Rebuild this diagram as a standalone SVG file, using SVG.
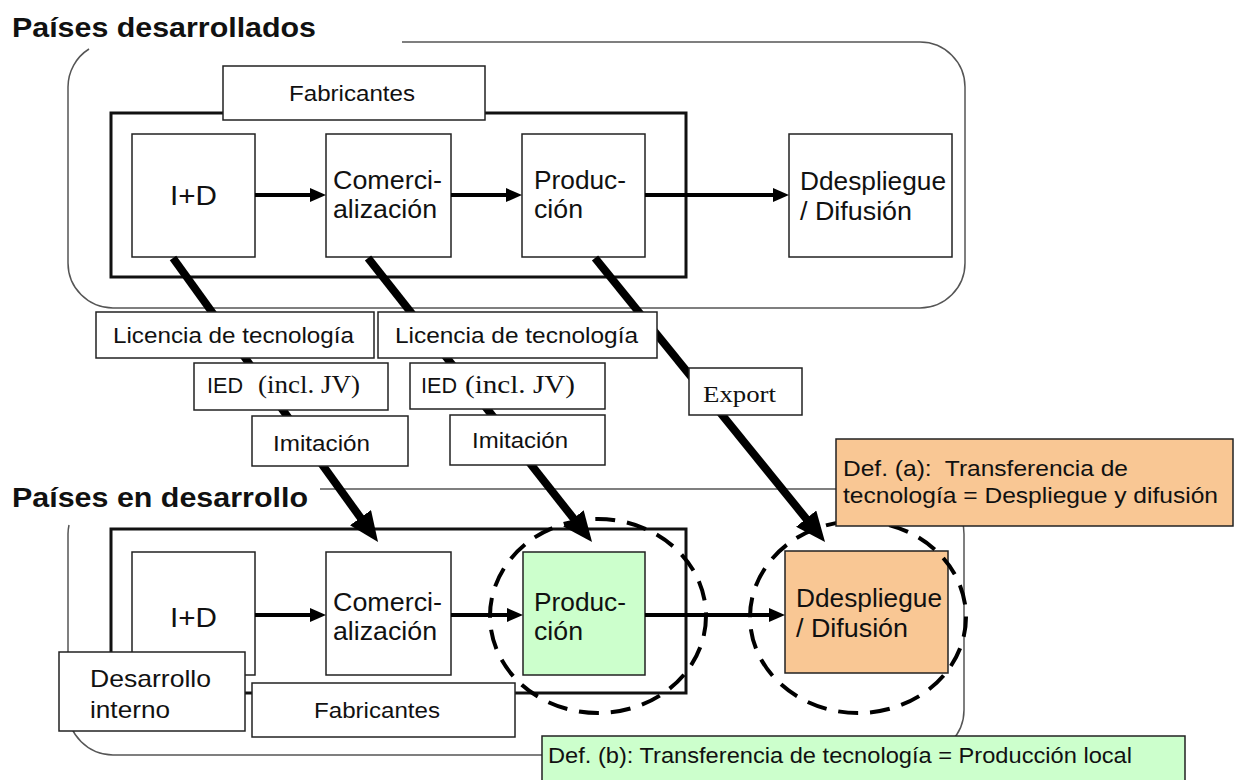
<svg xmlns="http://www.w3.org/2000/svg" width="1234" height="780" viewBox="0 0 1234 780">
  <style>
    .region { fill: none; stroke: #555; stroke-width: 1.5; }
    .frame  { fill: none; stroke: #111; stroke-width: 3; }
    .box    { fill: #fff; stroke: #222; stroke-width: 1.5; }
    .local  { fill: #CCFFCC; stroke: #222; stroke-width: 1.5; }
    .diff   { fill: #F9C794; stroke: #222; stroke-width: 1.5; }
    .t      { font-family: "Liberation Sans", Arial, sans-serif; fill: #111; }
    .tr     { font-family: "Liberation Serif", "Times New Roman", serif; fill: #111; }
    .title  { font-weight: bold; font-size: 28px; }
    .s25    { font-size: 25px; }
    .s22    { font-size: 22px; }
    .flow   { stroke: #000; stroke-width: 4; fill: none; marker-end: url(#ah); }
    .xfer   { stroke: #000; stroke-width: 8; fill: none; marker-end: url(#bh); }
    .scope  { fill: none; stroke: #000; stroke-width: 4; stroke-dasharray: 20 12; }
  </style>
  <defs>
    <marker id="ah" markerUnits="userSpaceOnUse" markerWidth="16" markerHeight="14" refX="6" refY="7" orient="auto">
      <path d="M0,0 L16,7 L0,14 z" fill="#000"/>
    </marker>
    <marker id="bh" markerUnits="userSpaceOnUse" markerWidth="30" markerHeight="26" refX="12" refY="13" orient="auto">
      <path d="M0,0 L30,13 L0,26 z" fill="#000"/>
    </marker>
  </defs>

  <rect width="1234" height="780" fill="#fff"/>

  <!-- Developed countries region -->
  <g id="developed">
    <path class="region" d="M402 42 H920 A45 45 0 0 1 965 87 V263 A45 45 0 0 1 920 308 H113 A45 45 0 0 1 68 263 V87 A45 45 0 0 1 89 49"/>
    <text class="t title" x="12" y="37" textLength="304" lengthAdjust="spacingAndGlyphs">Países desarrollados</text>
  </g>

  <!-- Developing countries region -->
  <g id="developing">
    <path class="region" d="M320 489 H919 A45 45 0 0 1 964 534 V710 A45 45 0 0 1 919 755 H113 A45 45 0 0 1 68 710 V534 A45 45 0 0 1 69 525"/>
    <text class="t title" x="12" y="507" style="font-size:27px" textLength="296" lengthAdjust="spacingAndGlyphs">Países en desarrollo</text>
  </g>

  <!-- Manufacturers (developed) -->
  <g id="fab-top">
    <rect class="frame" x="111" y="113" width="575" height="164"/>
    <rect class="box" x="223" y="66" width="262" height="54"/>
    <text class="t s22" x="352" y="101" text-anchor="middle" textLength="126" lengthAdjust="spacingAndGlyphs">Fabricantes</text>
  </g>
  <g id="id-top">
    <rect class="box" x="132" y="134" width="123" height="123"/>
    <text class="t" x="193.5" y="205" font-size="28" text-anchor="middle" textLength="47" lengthAdjust="spacingAndGlyphs">I+D</text>
  </g>
  <g id="com-top">
    <rect class="box" x="326" y="134" width="125" height="123"/>
    <text class="t s25" x="333" y="189" textLength="109" lengthAdjust="spacingAndGlyphs">Comerci-</text>
    <text class="t s25" x="333" y="218" textLength="104" lengthAdjust="spacingAndGlyphs">alización</text>
  </g>
  <g id="prod-top">
    <rect class="box" x="522" y="134" width="123" height="123"/>
    <text class="t s25" x="534" y="189" textLength="92" lengthAdjust="spacingAndGlyphs">Produc-</text>
    <text class="t s25" x="534" y="218" textLength="49" lengthAdjust="spacingAndGlyphs">ción</text>
  </g>
  <g id="dd-top">
    <rect class="box" x="789" y="134" width="163" height="123"/>
    <text class="t s25" x="800" y="190" textLength="146" lengthAdjust="spacingAndGlyphs">Ddespliegue</text>
    <text class="t s25" x="800" y="220" textLength="112" lengthAdjust="spacingAndGlyphs">/ Difusión</text>
  </g>

  <!-- Manufacturers (developing) -->
  <g id="fab-bottom-frame">
    <rect class="frame" x="111" y="529" width="575" height="164"/>
  </g>
  <g id="id-bottom">
    <rect class="box" x="132" y="552" width="123" height="123"/>
    <text class="t" x="193.5" y="627" font-size="28" text-anchor="middle" textLength="47" lengthAdjust="spacingAndGlyphs">I+D</text>
  </g>
  <g id="com-bottom">
    <rect class="box" x="326" y="552" width="125" height="123"/>
    <text class="t s25" x="333" y="611" textLength="109" lengthAdjust="spacingAndGlyphs">Comerci-</text>
    <text class="t s25" x="333" y="640" textLength="104" lengthAdjust="spacingAndGlyphs">alización</text>
  </g>
  <g id="prod-bottom">
    <rect class="local" x="523" y="552" width="122" height="123"/>
    <text class="t s25" x="534" y="611" textLength="92" lengthAdjust="spacingAndGlyphs">Produc-</text>
    <text class="t s25" x="534" y="640" textLength="49" lengthAdjust="spacingAndGlyphs">ción</text>
  </g>
  <g id="dd-bottom">
    <rect class="diff" x="785" y="551" width="163" height="122"/>
    <text class="t s25" x="796" y="607" textLength="146" lengthAdjust="spacingAndGlyphs">Ddespliegue</text>
    <text class="t s25" x="796" y="637" textLength="112" lengthAdjust="spacingAndGlyphs">/ Difusión</text>
  </g>
  <g id="internal-dev">
    <rect class="box" x="59" y="652" width="186" height="79"/>
    <text class="t" x="90" y="687" font-size="24" textLength="121" lengthAdjust="spacingAndGlyphs">Desarrollo</text>
    <text class="t" x="90" y="718" font-size="24" textLength="80" lengthAdjust="spacingAndGlyphs">interno</text>
  </g>
  <g id="fab-bottom">
    <rect class="box" x="252" y="683" width="263" height="54"/>
    <text class="t s22" x="377" y="718" text-anchor="middle" textLength="126" lengthAdjust="spacingAndGlyphs">Fabricantes</text>
  </g>

  <!-- Scope of each definition -->
  <g id="scopes">
    <ellipse class="scope" cx="598" cy="616" rx="108" ry="97"/>
    <ellipse class="scope" cx="858" cy="617" rx="108" ry="96"/>
  </g>

  <!-- Connectors -->
  <g id="connectors">
    <line class="flow" x1="255" y1="195" x2="316" y2="195"/>
    <line class="flow" x1="451" y1="195" x2="512" y2="195"/>
    <line class="flow" x1="645" y1="195" x2="779" y2="195"/>
    <line class="flow" x1="255" y1="615" x2="316" y2="615"/>
    <line class="flow" x1="451" y1="615" x2="513" y2="615"/>
    <line class="flow" x1="645" y1="615" x2="775" y2="615"/>
    <line class="xfer" x1="173" y1="258" x2="367.5" y2="527.4"/>
    <line class="xfer" x1="368" y1="258" x2="580.9" y2="527.8"/>
    <line class="xfer" x1="595" y1="258" x2="813.7" y2="528"/>
  </g>

  <!-- Transfer channel labels -->
  <g id="lic-1">
    <rect class="box" x="96" y="312" width="278" height="46"/>
    <text class="t s22" x="113" y="343" textLength="241" lengthAdjust="spacingAndGlyphs">Licencia de tecnología</text>
  </g>
  <g id="lic-2">
    <rect class="box" x="378" y="312" width="279" height="46"/>
    <text class="t s22" x="395" y="343" textLength="243" lengthAdjust="spacingAndGlyphs">Licencia de tecnología</text>
  </g>
  <g id="fdi-1">
    <rect class="box" x="194" y="363" width="194" height="47"/>
    <text class="t s22" x="207" y="393" textLength="36" lengthAdjust="spacingAndGlyphs">IED</text>
    <text class="tr" x="258" y="393" font-size="25" textLength="102" lengthAdjust="spacingAndGlyphs">(incl. JV)</text>
  </g>
  <g id="fdi-2">
    <rect class="box" x="410" y="363" width="195" height="46"/>
    <text class="t s22" x="421" y="393" textLength="36" lengthAdjust="spacingAndGlyphs">IED</text>
    <text class="tr" x="465" y="393" font-size="25" textLength="110" lengthAdjust="spacingAndGlyphs">(incl. JV)</text>
  </g>
  <g id="imit-1">
    <rect class="box" x="252" y="416" width="156" height="50"/>
    <text class="t s22" x="273" y="451" textLength="97" lengthAdjust="spacingAndGlyphs">Imitación</text>
  </g>
  <g id="imit-2">
    <rect class="box" x="450" y="415" width="155" height="50"/>
    <text class="t s22" x="472" y="448" textLength="96" lengthAdjust="spacingAndGlyphs">Imitación</text>
  </g>
  <g id="export">
    <rect class="box" x="689" y="368" width="113" height="47"/>
    <text class="tr" x="703" y="402" font-size="24" textLength="73" lengthAdjust="spacingAndGlyphs">Export</text>
  </g>

  <!-- Definitions -->
  <g id="def-a">
    <rect class="diff" x="836" y="439" width="397" height="87"/>
    <text class="t s22" x="843" y="476" textLength="285" lengthAdjust="spacingAndGlyphs" xml:space="preserve">Def. (a):  Transferencia de</text>
    <text class="t s22" x="843" y="503" textLength="375" lengthAdjust="spacingAndGlyphs">tecnología = Despliegue y difusión</text>
  </g>
  <g id="def-b">
    <rect class="local" x="542" y="736" width="643" height="50"/>
    <text class="t s22" x="548" y="763" textLength="584" lengthAdjust="spacingAndGlyphs">Def. (b): Transferencia de tecnología = Producción local</text>
  </g>
</svg>
